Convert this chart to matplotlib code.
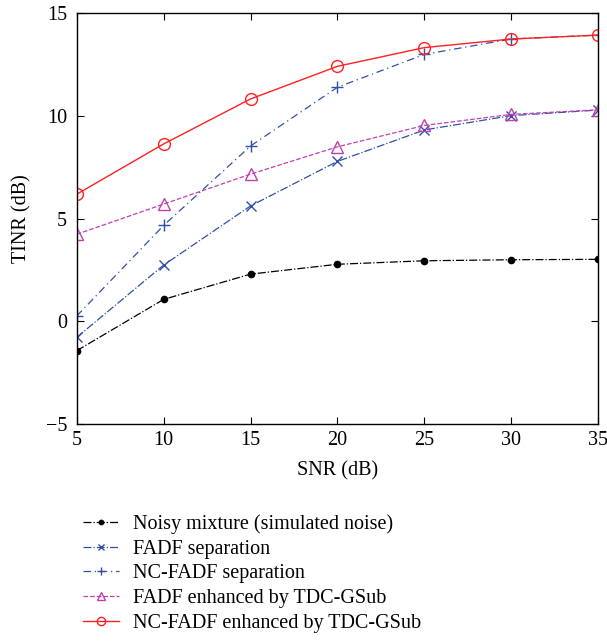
import matplotlib.pyplot as plt

# SNR (dB) on the x axis
snr = [5, 10, 15, 20, 25, 30, 35]

# TINR (dB) for each method
noisy = [-1.43, 1.07, 2.30, 2.78, 2.95, 3.00, 3.02]
fadf = [-0.78, 2.74, 5.62, 7.79, 9.32, 10.02, 10.29]
ncfadf = [0.26, 4.67, 8.54, 11.40, 13.00, 13.75, 13.94]
fadf_enh = [4.24, 5.71, 7.17, 8.50, 9.54, 10.08, 10.30]
ncfadf_enh = [6.19, 8.64, 10.83, 12.42, 13.33, 13.75, 13.94]

labels = ["Noisy mixture (simulated noise)", "FADF separation",
          "NC-FADF separation", "FADF enhanced by TDC-GSub",
          "NC-FADF enhanced by TDC-GSub"]

plt.rcParams['font.family'] = ['Liberation Serif', 'DejaVu Serif']
plt.rcParams['font.size'] = 14.5

fig = plt.figure(figsize=(6.07, 6.41), dpi=100)
ax = fig.add_axes([0.1264, 0.3385, 0.859, 0.6407])

ax.plot(snr, noisy, color='black', ls='-.', lw=0.9, marker='o', ms=4.5,
        label=labels[0])
ax.plot(snr, fadf, color='#3050a8', ls='-.', lw=0.9, marker='x', ms=7,
        mew=1.0, label=labels[1])
ax.plot(snr, ncfadf, color='#3050a8', ls=(0, (6, 3, 1, 3)), lw=0.9,
        marker='+', ms=9, mew=1.0, label=labels[2])
ax.plot(snr, fadf_enh, color='#c040b0', ls='--', lw=0.9, marker='^', ms=8.5,
        mfc='none', mew=1.0, label=labels[3])
ax.plot(snr, ncfadf_enh, color='#ff2020', ls='-', lw=1.0, marker='o', ms=8.5,
        mfc='none', mew=1.0, label=labels[4])

ax.set_xlim(5, 35)
ax.set_ylim(-5, 15)
ax.set_xticks(snr)
ax.set_yticks([-5, 0, 5, 10, 15])
ax.set_xlabel("SNR (dB)", fontsize=14.5, labelpad=8)
ax.set_ylabel("TINR (dB)", fontsize=14.5, labelpad=10)
ax.tick_params(direction='in', top=True, right=True, labelsize=14.5,
               length=5)
ax.tick_params(axis='y', pad=7)
ax.tick_params(axis='x', pad=5)
for s in ax.spines.values():
    s.set_linewidth(1.0)

fig.legend(loc='upper left', bbox_to_anchor=(0.107, 0.226), frameon=False,
           handlelength=1.8, labelspacing=0.28, fontsize=14.5,
           handletextpad=0.7, markerscale=0.7)

fig.savefig('out.png', dpi=100)
